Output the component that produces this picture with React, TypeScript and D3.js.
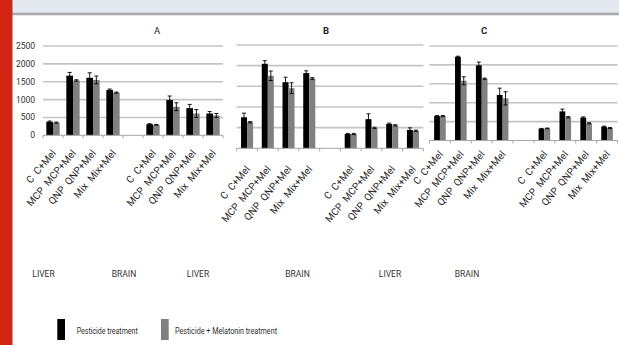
import React from "react";
import * as d3 from "d3";

// ---------- data ----------
const panelNames = ["A", "B", "C"];
const groups = ["C", "MCP", "QNP", "Mix"];
const tissues = ["LIVER", "BRAIN"];
const yTicks = [0, 500, 1000, 1500, 2000, 2500];
const seriesNames = ["Pesticide treatment", "Pesticide + Melatonin treatment"];

// order: liver C, MCP, QNP, Mix, brain C, MCP, QNP, Mix
const pestA = [380, 1670, 1610, 1270, 310, 990, 760, 610];
const pestErrA = [20, 90, 140, 25, 15, 110, 105, 55];
const melA = [355, 1535, 1550, 1195, 295, 800, 610, 555];
const melErrA = [15, 20, 110, 15, 10, 110, 110, 55];

const pestB = [750, 2045, 1600, 1820, 345, 705, 590, 445];
const pestErrB = [100, 75, 120, 55, 15, 130, 20, 50];
const melB = [630, 1755, 1455, 1690, 345, 495, 555, 425];
const melErrB = [15, 115, 130, 20, 15, 15, 15, 15];

const pestC = [645, 2215, 1990, 1205, 310, 770, 605, 365];
const pestErrC = [15, 15, 85, 180, 10, 60, 20, 15];
const melC = [645, 1580, 1635, 1115, 320, 615, 455, 330];
const melErrC = [15, 105, 15, 175, 10, 15, 15, 15];

const pestAll = [pestA, pestB, pestC];
const pestErrAll = [pestErrA, pestErrB, pestErrC];
const melAll = [melA, melB, melC];
const melErrAll = [melErrA, melErrB, melErrC];

// ---------- layout ----------
const W = 619;
const H = 345;
const layouts = [
  { x0: 43, x1: 223, top: 46, base: 135.3, labOff: 18, pad: 0.5, titleX: 157, tissueX: [43.5, 124], bold: false },
  { x0: 236.7, x1: 423.3, top: 45, base: 148.3, labOff: 21, pad: 0.72, titleX: 326, tissueX: [198, 297.5], bold: true },
  { x0: 429.5, x1: 617.5, top: 46, base: 140.5, labOff: 14, pad: 0.8, titleX: 484, tissueX: [390, 467], bold: true },
];
const FONT = "Roboto, 'Open Sans', sans-serif";
const colors = ["#000000", "#808080"];

const slots = ["L0", "L1", "L2", "L3", "gap", "B0", "B1", "B2", "B3"];
const valueSlots = ["L0", "L1", "L2", "L3", "B0", "B1", "B2", "B3"];

function Panel({ idx }: { idx: number }) {
  const L = layouts[idx];
  const x = d3.scaleBand<string>().domain(slots).range([L.x0, L.x1]).paddingInner(0).paddingOuter(0);
  const y = d3.scaleLinear().domain([0, 2500]).range([L.base, L.top]);
  const inner = d3.scaleBand<string>().domain(["p", "m"]).range([0, x.bandwidth()]).paddingOuter(L.pad).paddingInner(0);
  const bw = inner.bandwidth();
  const series = [
    { key: "p", vals: pestAll[idx], errs: pestErrAll[idx], color: colors[0] },
    { key: "m", vals: melAll[idx], errs: melErrAll[idx], color: colors[1] },
  ];
  const bounds = d3.range(slots.length + 1).map((i) => L.x0 + i * x.step());
  return (
    <g>
      {yTicks.slice(1).map((t) => (
        <line key={t} x1={L.x0} x2={L.x1} y1={y(t)} y2={y(t)} stroke="#c4c4c4" strokeWidth={1.6} />
      ))}
      {idx === 0 &&
        yTicks.map((t) => (
          <text key={t} x={35} y={y(t)} dy="0.35em" textAnchor="end" fontSize={8.5} fill="#303030" fontFamily={FONT}>
            {t}
          </text>
        ))}
      <text
        x={L.titleX}
        y={33.5}
        textAnchor="middle"
        fontSize={9.5}
        fontWeight={L.bold ? "bold" : "normal"}
        fill="#222"
        fontFamily={FONT}
      >
        {panelNames[idx]}
      </text>
      {series.map((s) =>
        valueSlots.map((sl, i) => {
          const bx = (x(sl) as number) + (inner(s.key) as number);
          return (
            <rect key={s.key + sl} x={bx} y={y(s.vals[i])} width={bw} height={L.base - y(s.vals[i])} fill={s.color} />
          );
        })
      )}
      <line x1={L.x0} x2={L.x1} y1={L.base} y2={L.base} stroke="#a6a6a6" strokeWidth={1} />
      {bounds.map((bx, i) => (
        <line key={i} x1={bx} x2={bx} y1={L.base} y2={L.base + 3} stroke="#a6a6a6" strokeWidth={1} />
      ))}
      {series.map((s) =>
        valueSlots.map((sl, i) => {
          const cx = (x(sl) as number) + (inner(s.key) as number) + bw / 2;
          const yt = y(s.vals[i] + s.errs[i]);
          const yb = y(s.vals[i] - s.errs[i]);
          return (
            <g key={"e" + s.key + sl} stroke="#000" strokeWidth={0.9}>
              <line x1={cx} x2={cx} y1={yt} y2={yb} />
              <line x1={cx - 2} x2={cx + 2} y1={yt} y2={yt} />
              <line x1={cx - 2} x2={cx + 2} y1={yb} y2={yb} />
            </g>
          );
        })
      )}
      {valueSlots.map((sl, i) => {
        const g = groups[i % 4];
        const px = (x(sl) as number) + x.bandwidth() / 2 + 3.5;
        const py = L.base + L.labOff;
        return (
          <text
            key={"lab" + sl}
            transform={`translate(${px},${py}) rotate(-50)`}
            textAnchor="end"
            fontSize={10}
            fill="#2a2a2a"
            fontFamily={FONT}
            style={{ whiteSpace: "pre" }}
          >
            {`${g}  ${g}+Mel`}
          </text>
        );
      })}
      {tissues.map((t, k) => (
        <text key={t} x={L.tissueX[k]} y={277} textAnchor="middle" fontSize={8.5} fill="#333" fontFamily={FONT}>
          {t}
        </text>
      ))}
    </g>
  );
}

export default function App() {
  const legendX = [57.3, 161];
  const legendTextX = [76.7, 175];
  const legendTextW = [61, 102];
  return (
    <svg width={W} height={H} style={{ position: "absolute", left: 0, top: 0 }}>
      <rect x={0} y={0} width={W} height={H} fill="#fff" />
      <rect x={0} y={0} width={W} height={13} fill="#e4e9f0" />
      <line x1={12} x2={W} y1={14} y2={14} stroke="#a9a9a9" strokeWidth={2.4} />
      <rect x={0} y={0} width={12.5} height={H} fill="#d42414" />
      {panelNames.map((_, i) => (
        <Panel key={i} idx={i} />
      ))}
      {seriesNames.map((n, i) => (
        <g key={n}>
          <rect x={legendX[i]} y={319} width={7.7} height={21} fill={colors[i]} />
          <text
            x={legendTextX[i]}
            y={333.5}
            fontSize={8.5}
            fill="#303030"
            fontFamily={FONT}
            textLength={legendTextW[i]}
            lengthAdjust="spacingAndGlyphs"
          >
            {n}
          </text>
        </g>
      ))}
    </svg>
  );
}
